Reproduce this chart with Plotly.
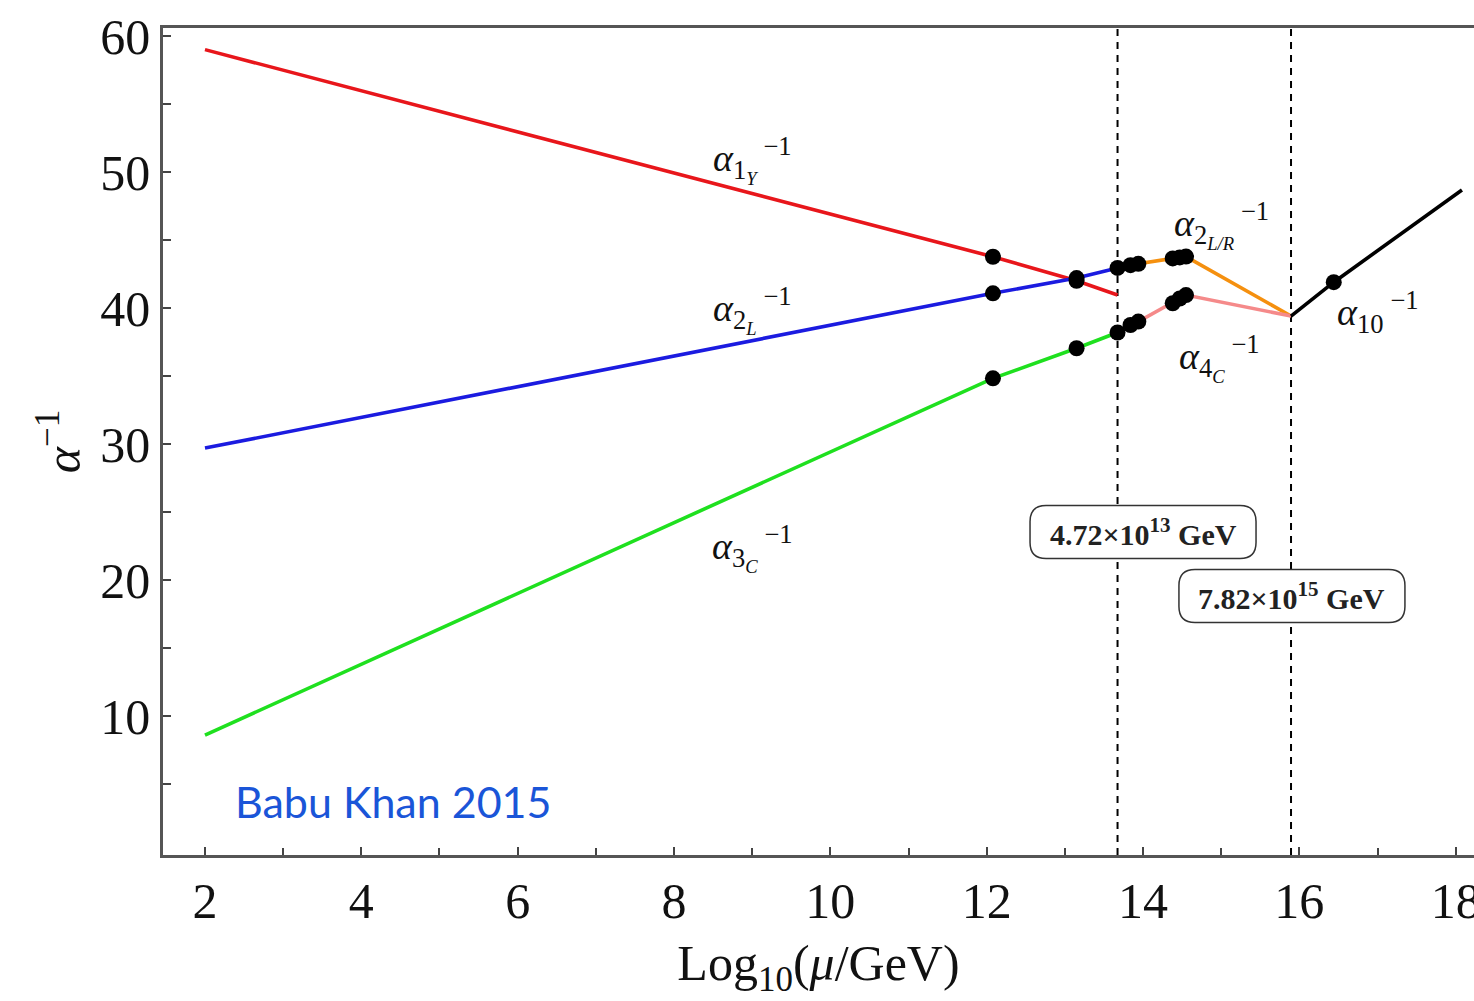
import numpy as np
import plotly.graph_objects as go

# Matching scales (GeV)
M_C = 4.72e13
M_U = 7.82e15
x_c = float(np.log10(M_C))
x_u = float(np.log10(M_U))

# Running inverse couplings, log10(mu/GeV) vs alpha^-1
x_1y = [2.0, 12.08, 13.15, x_c]
a_1y = [59.0, 43.77, 42.0, 40.96]

x_2l = [2.0, 12.08, 13.15, x_c]
a_2l = [29.7, 41.08, 42.2, 42.95]

x_3c = [2.0, 12.08, 13.15, x_c]
a_3c = [8.6, 34.83, 37.04, 38.2]

x_2lr = [x_c, 13.84, 13.94, 14.38, 14.47, 14.55, x_u]
a_2lr = [42.95, 43.15, 43.25, 43.65, 43.72, 43.78, 39.41]

x_4c = [x_c, 13.84, 13.94, 14.38, 14.47, 14.55, x_u]
a_4c = [38.2, 38.75, 39.0, 40.35, 40.7, 40.95, 39.41]

x_10 = [x_u, 16.44, 18.08]
a_10 = [39.41, 41.9, 48.68]

# Threshold points marked with dots
dot_x = [12.08, 12.08, 12.08, 13.15, 13.15, 13.15, x_c, x_c,
         13.84, 13.94, 14.38, 14.47, 14.55,
         13.84, 13.94, 14.38, 14.47, 14.55, 16.44]
dot_y = [43.77, 41.08, 34.83, 42.0, 42.2, 37.04, 42.95, 38.2,
         43.15, 43.25, 43.65, 43.72, 43.78,
         38.75, 39.0, 40.35, 40.7, 40.95, 41.9]

x_ticks = [2, 4, 6, 8, 10, 12, 14, 16, 18]
y_ticks = [10, 20, 30, 40, 50, 60]

X_RANGE = [1.463, 18.234]
Y_RANGE = [-0.22, 60.59]

W, H = 1474, 1001
M_L, M_R, M_T, M_B = 163, 0, 28, 146
px_per_x = (W - M_L - M_R) / (X_RANGE[1] - X_RANGE[0])
px_per_y = (H - M_T - M_B) / (Y_RANGE[1] - Y_RANGE[0])

fig = go.Figure()

series = [
    (x_1y, a_1y, "#e8161b"),
    (x_2l, a_2l, "#1b1be0"),
    (x_3c, a_3c, "#1fe01f"),
    (x_2lr, a_2lr, "#f5900f"),
    (x_4c, a_4c, "#f58a8a"),
    (x_10, a_10, "#000000"),
]
for xs, ys, col in series:
    fig.add_trace(go.Scatter(x=xs, y=ys, mode="lines",
                             line=dict(color=col, width=3.6),
                             showlegend=False, hoverinfo="skip"))

fig.add_trace(go.Scatter(x=dot_x, y=dot_y, mode="markers",
                         marker=dict(color="black", size=16),
                         showlegend=False, hoverinfo="skip"))

# Dashed vertical lines at the two breaking scales
for xv in (x_c, x_u):
    fig.add_shape(type="line", x0=xv, x1=xv, y0=0, y1=1, yref="paper",
                  line=dict(color="black", width=2, dash="7px,6px"),
                  layer="below")


def rounded_box(xc, yc, wpx, hpx, rpx):
    """Rounded rectangle path in data units, sized in pixels."""
    hw, hh = wpx / 2 / px_per_x, hpx / 2 / px_per_y
    rx, ry = rpx / px_per_x, rpx / px_per_y
    x0, x1, y0, y1 = xc - hw, xc + hw, yc - hh, yc + hh
    return (f"M {x0+rx},{y1} L {x1-rx},{y1} Q {x1},{y1} {x1},{y1-ry} "
            f"L {x1},{y0+ry} Q {x1},{y0} {x1-rx},{y0} "
            f"L {x0+rx},{y0} Q {x0},{y0} {x0},{y0+ry} "
            f"L {x0},{y1-ry} Q {x0},{y1} {x0+rx},{y1} Z")


boxes = [
    (14.0, 23.53, "4.72×10<sup>13</sup> GeV"),
    (15.905, 18.82, "7.82×10<sup>15</sup> GeV"),
]
for bx, by, txt in boxes:
    fig.add_shape(type="path", path=rounded_box(bx, by, 226, 53, 16),
                  line=dict(color="#333333", width=1.5),
                  fillcolor="white", layer="above")
    fig.add_annotation(x=bx, y=by, text="<b>" + txt + "</b>", showarrow=False,
                       font=dict(family="Liberation Serif", size=30,
                                 color="#222222"))

# Coupling labels
labels = [
    (9.0, 50.9, "<i>α</i><sub>1<sub><i>Y</i></sub></sub><sup> −1</sup>"),
    (9.0, 39.85, "<i>α</i><sub>2<sub><i>L</i></sub></sub><sup> −1</sup>"),
    (9.0, 22.35, "<i>α</i><sub>3<sub><i>C</i></sub></sub><sup> −1</sup>"),
    (15.0, 46.1, "<i>α</i><sub>2<sub><i>L/R</i></sub></sub><sup> −1</sup>"),
    (14.98, 36.3, "<i>α</i><sub>4<sub><i>C</i></sub></sub><sup> −1</sup>"),
    (17.0, 39.7, "<i>α</i><sub>10</sub><sup> −1</sup>"),
]
for lx, ly, txt in labels:
    fig.add_annotation(x=lx, y=ly, text=txt, showarrow=False,
                       font=dict(family="Liberation Serif", size=38,
                                 color="#111111"))

fig.add_annotation(x=2.36, y=3.68, xanchor="left", text="Babu Khan 2015",
                   showarrow=False,
                   font=dict(family="Lato", size=43, color="#1a55d8"))

axis_font = dict(family="Liberation Serif", size=50, color="#111111")

fig.update_xaxes(range=X_RANGE, tickvals=x_ticks,
                 ticktext=[str(v) for v in x_ticks],
                 ticklabeloverflow="allow", automargin=False,
                 tickfont=axis_font, ticks="inside", ticklen=8, tickwidth=1.5,
                 tickcolor="#444444",
                 minor=dict(tickvals=[3, 5, 7, 9, 11, 13, 15, 17],
                            ticks="inside", ticklen=7, tickwidth=1.5,
                            tickcolor="#444444"),
                 showline=True, linecolor="#555555", linewidth=2.5,
                 mirror=True, showgrid=False, zeroline=False,
                 title=dict(text="Log<sub>10</sub>(<i>μ</i>/GeV)",
                            font=axis_font, standoff=18))

fig.update_yaxes(range=Y_RANGE, tickvals=y_ticks,
                 ticktext=[str(v) for v in y_ticks],
                 automargin=False,
                 tickfont=axis_font, ticks="inside", ticklen=8, tickwidth=1.5,
                 tickcolor="#444444",
                 minor=dict(tickvals=[5, 15, 25, 35, 45, 55],
                            ticks="inside", ticklen=8, tickwidth=1.5,
                            tickcolor="#444444"),
                 showline=True, linecolor="#555555", linewidth=2.5,
                 showgrid=False, zeroline=False,
                 title=dict(text="<i>α</i><sup>−1</sup>", font=axis_font,
                            standoff=4))

fig.update_layout(width=W, height=H,
                  margin=dict(l=M_L, r=M_R, t=M_T, b=M_B),
                  plot_bgcolor="white", paper_bgcolor="white")

fig.write_html("out.html")
